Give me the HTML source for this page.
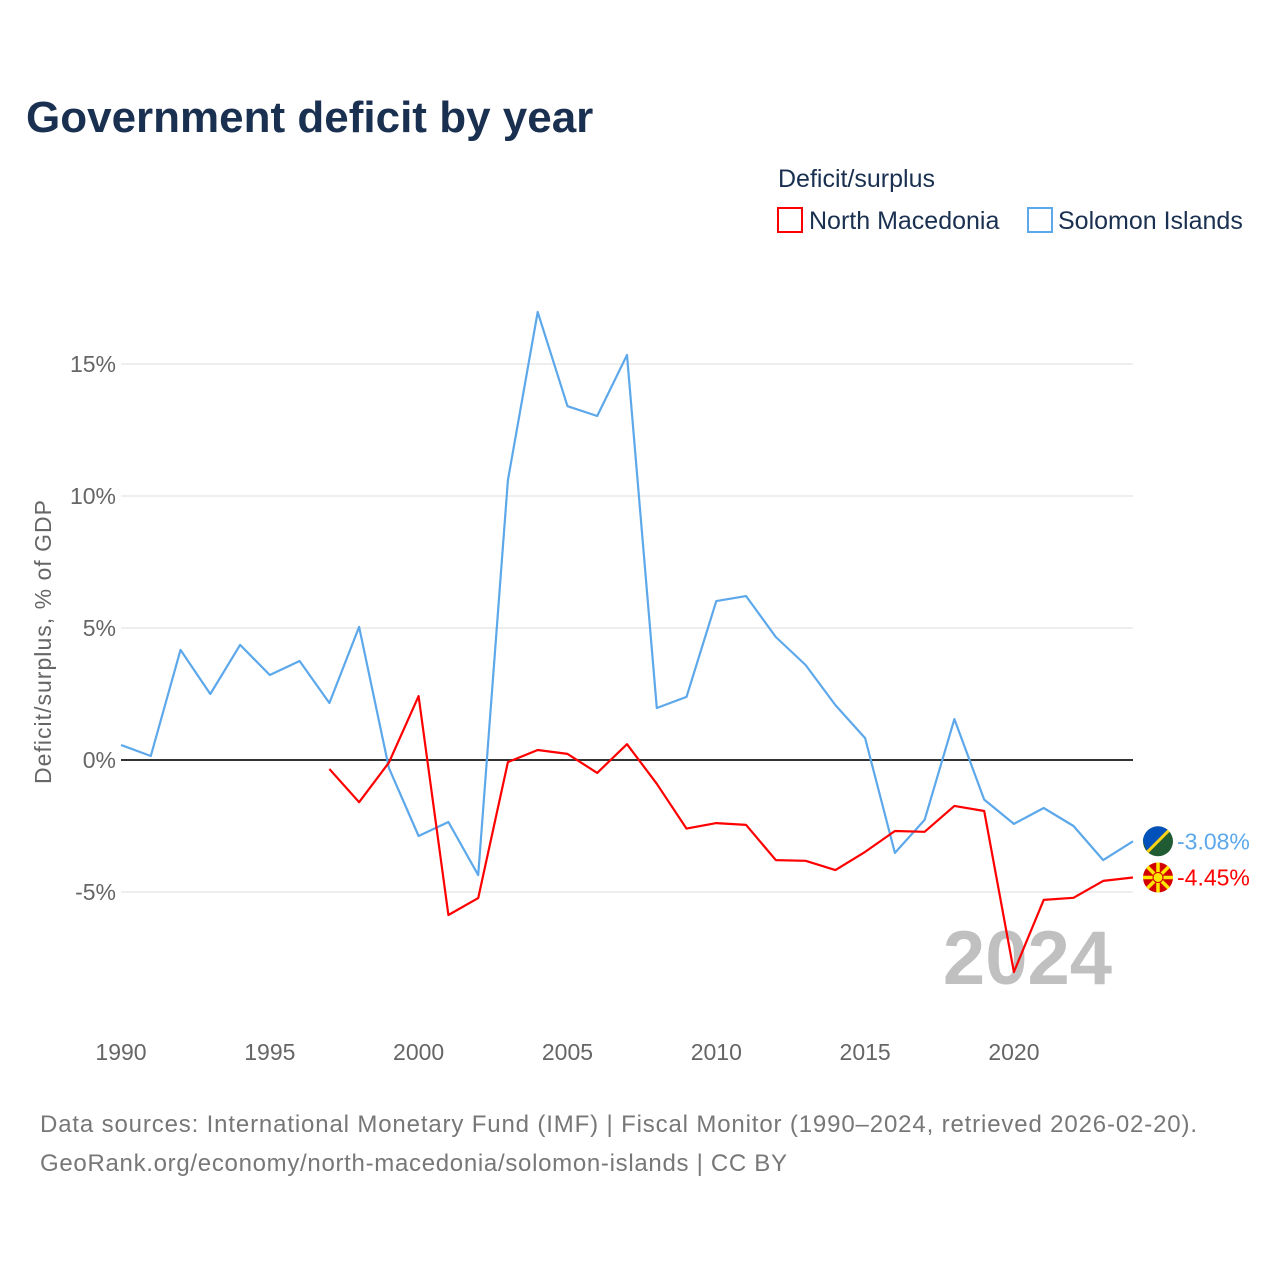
<!DOCTYPE html>
<html><head><meta charset="utf-8">
<style>
body{margin:0;background:#fff;font-family:"Liberation Sans",sans-serif;}
</style></head>
<body>
<svg id="chart" width="1280" height="1280" viewBox="0 0 1280 1280" xmlns="http://www.w3.org/2000/svg">
<rect width="1280" height="1280" fill="#fff"/>
<text x="26" y="132" font-size="44" font-weight="bold" fill="#1a3050">Government deficit by year</text>
<text x="778" y="187" font-size="25" fill="#1a3050">Deficit/surplus</text>
<g>
<rect x="778" y="208" width="24" height="24" fill="none" stroke="#ff0000" stroke-width="2"/>
<text x="809" y="229" font-size="25" fill="#1a3050">North Macedonia</text></g>
<g>
<rect x="1028" y="208" width="24" height="24" fill="none" stroke="#5ca8ea" stroke-width="2"/>
<text x="1058" y="229" font-size="25" fill="#1a3050">Solomon Islands</text></g>
<text transform="translate(51,642) rotate(-90)" text-anchor="middle" font-size="23" fill="#666" textLength="284">Deficit/surplus, % of GDP</text>
<g id="grid"></g><g id="xt"></g>
<text x="1112" y="984" text-anchor="end" font-size="76" font-weight="bold" fill="#c0c0c0">2024</text>
<g id="series"></g>
<text x="40" y="1132" font-size="24" fill="#777" textLength="1157">Data sources: International Monetary Fund (IMF) | Fiscal Monitor (1990–2024, retrieved 2026-02-20).</text>
<text x="40" y="1171" font-size="24" fill="#777" textLength="747">GeoRank.org/economy/north-macedonia/solomon-islands | CC BY</text>
</svg>
<script>
const years=[];for(let y=1990;y<=2024;y++)years.push(y);
const solomon=[0.57,0.15,4.17,2.5,4.36,3.22,3.75,2.16,5.04,-0.3,-2.88,-2.35,-4.36,10.6,16.97,13.4,13.03,15.34,1.97,2.39,6.02,6.21,4.66,3.6,2.08,0.83,-3.52,-2.27,1.55,-1.5,-2.42,-1.82,-2.5,-3.79,-3.08];
const macedonia=[null,null,null,null,null,null,null,-0.34,-1.6,-0.1,2.42,-5.87,-5.23,-0.08,0.38,0.23,-0.49,0.6,-0.9,-2.6,-2.39,-2.46,-3.79,-3.82,-4.17,-3.48,-2.69,-2.72,-1.74,-1.93,-8.03,-5.3,-5.22,-4.58,-4.45];
const yTicks=[-5,0,5,10,15];
const xTicks=[1990,1995,2000,2005,2010,2015,2020];
const NS="http://www.w3.org/2000/svg";
const X=y=>121+(y-1990)*(1133-121)/34;
const Y=v=>760-v*26.4;
function mk(t,a,p){const e=document.createElementNS(NS,t);for(const k in a)e.setAttribute(k,a[k]);p.appendChild(e);return e;}
const grid=document.getElementById('grid'),xt=document.getElementById('xt'),ser=document.getElementById('series');
yTicks.forEach(v=>{
 const l=mk('line',{x1:121,x2:1133,y1:Y(v),y2:Y(v),stroke:v===0?'#333':'#e8e8e8','stroke-width':v===0?2:1.5},grid);
 
 
 const t=mk('text',{x:116,y:Y(v)+8,'text-anchor':'end','font-size':23,fill:'#666'},grid);
 t.textContent=v+'%';
 
 
});
xTicks.forEach(y=>{
 const t=mk('text',{x:X(y),y:1060,'text-anchor':'middle','font-size':23,fill:'#666'},xt);
 t.textContent=y;
 
 
});
function line(data,color,name){
 let d='';data.forEach((v,i)=>{if(v===null)return;d+=(d?'L':'M')+X(years[i]).toFixed(1)+','+Y(v).toFixed(1);});
 const p=mk('path',{d:d,fill:'none',stroke:color,'stroke-width':2.2,'stroke-linejoin':'round'},ser);
 
 
}
line(solomon,'#5ca8ea','solomon-islands-line');
line(macedonia,'#ff0000','north-macedonia-line');
function endLabel(data,color,name,flag){
 const v=data[data.length-1],y=Y(v),x=1158;
 const g=mk('g',{},ser);
 
 
 if(flag==='sb'){
  mk('circle',{cx:x,cy:y,r:15,fill:'#215b33'},g);
  mk('path',{d:`M${x-15},${y} A15,15 0 0 1 ${x+10.6},${y-10.6} L${x-10.6},${y+10.6} Z`,fill:'#0051ba'},g);
  mk('line',{x1:x-10.6,y1:y+10.6,x2:x+10.6,y2:y-10.6,stroke:'#fcd116','stroke-width':3},g);
 }else{
  mk('circle',{cx:x,cy:y,r:15,fill:'#d20000'},g);
  for(let a=0;a<8;a++){const r=a*Math.PI/4;mk('line',{x1:x,y1:y,x2:x+15*Math.cos(r),y2:y+15*Math.sin(r),stroke:'#ffe600','stroke-width':3.5},g);}
  mk('circle',{cx:x,cy:y,r:5,fill:'#ffe600',stroke:'#d20000','stroke-width':1},g);
 }
 const t=mk('text',{x:1177,y:y+8,'font-size':23,fill:color},g);
 t.textContent=v.toFixed(2)+'%';
}
endLabel(solomon,'#5ca8ea','solomon-islands-end-label','sb');
endLabel(macedonia,'#ff0000','north-macedonia-end-label','mk');
</script>
</body></html>
